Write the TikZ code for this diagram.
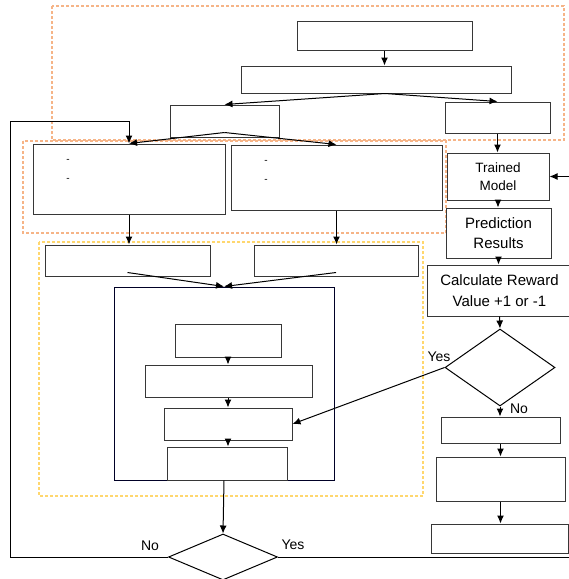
\documentclass[tikz,border=0pt]{standalone}
\usepackage{fontspec}
\setmainfont{Liberation Sans}
\usetikzlibrary{shapes.geometric,positioning,arrows.meta}

\definecolor{zoneorange}{RGB}{246,180,135}
\definecolor{zoneyellow}{RGB}{255,215,110}
\definecolor{edgegray}{RGB}{55,55,55}

\tikzstyle{block} = [draw=edgegray, rectangle, fill=white, line width=1pt, inner sep=0pt, text centered]
\tikzstyle{decision} = [draw=black, diamond, fill=white, line width=1pt, inner sep=0pt]
\tikzstyle{zone} = [dash pattern=on 3pt off 2pt, line width=1.3pt]
\tikzstyle{arrow} = [draw, line width=1pt, -{Latex[length=8pt,width=7pt]}]
\tikzstyle{tag} = [inner sep=0pt, font=\fontsize{14}{16}\selectfont]

\begin{document}
\begin{tikzpicture}[x=1pt, y=-1pt, node distance=2.5cm, auto]
  \useasboundingbox (0,0) rectangle (569,579);
  \draw[zone, draw=zoneorange] (52,6) rectangle (564,140);
  \draw[zone, draw=zoneorange] (23,141) rectangle (446,233);
  \draw[zone, draw=zoneyellow] (39,242) rectangle (423,496);

  \node [block, minimum width=175pt, minimum height=29pt] (a1) at (384.5,35.5) {};
  \node [block, minimum width=270pt, minimum height=27pt] (a2) at (376,79.5) {};
  \node [block, minimum width=109pt, minimum height=32pt] (a3) at (224.5,121) {};
  \node [block, minimum width=105pt, minimum height=31pt] (a4) at (497.5,117.5) {};
  \node [block, minimum width=192pt, minimum height=70pt] (a5) at (129,179) {};
  \node [block, minimum width=211pt, minimum height=65pt] (a6) at (336.5,177.5) {};
  \node [inner sep=0pt] (d1) at (68,161) {-};
  \node [inner sep=0pt] (d2) at (68,180) {-};
  \node [inner sep=0pt] (d3) at (266,162) {-};
  \node [inner sep=0pt] (d4) at (266,181) {-};

  \node [block, minimum width=102pt, minimum height=47pt, align=center, font=\fontsize{13.5}{17.5}\selectfont] (trained) at (498,176.5) {Trained\\Model};
  \node [block, minimum width=105pt, minimum height=50pt, align=center, font=\fontsize{15}{19.5}\selectfont] (pred) at (498.5,233) {Prediction\\Results};
  \node [block, minimum width=145pt, minimum height=51pt, align=center, font=\fontsize{15}{21}\selectfont] (reward) at (499.5,290.5) {Calculate Reward\\Value +1 or -1};
  \node [decision, minimum width=110pt, minimum height=77pt] (dec1) at (500,367.5) {};
  \node [block, minimum width=119pt, minimum height=26pt] (g1) at (500.5,430) {};
  \node [block, minimum width=129pt, minimum height=44pt] (g2) at (500.5,479) {};
  \node [block, minimum width=137pt, minimum height=29pt] (g3) at (500,538.5) {};

  \node [block, minimum width=165pt, minimum height=31pt] (j1) at (127.5,260.5) {};
  \node [block, minimum width=164pt, minimum height=31pt] (k1) at (336,260.5) {};
  \node [block, draw=black!85!blue, minimum width=220pt, minimum height=193pt] (train) at (224,383.5) {};
  \node [block, minimum width=106pt, minimum height=33pt] (m1) at (228,340.5) {};
  \node [block, minimum width=167pt, minimum height=32pt] (m2) at (228.5,381) {};
  \node [block, minimum width=128pt, minimum height=32pt] (m3) at (228,424) {};
  \node [block, minimum width=120pt, minimum height=33pt] (m4) at (227,463.5) {};
  \node [decision, minimum width=109pt, minimum height=46pt] (dec2) at (223,557) {};

  \node [tag] (yes1) at (439,357) {Yes};
  \node [tag] (no1) at (519,409) {No};
  \node [tag] (no2) at (150,546) {No};
  \node [tag] (yes2) at (293,545) {Yes};

  \coordinate (loopL) at (10,121);
  \coordinate (loopR) at (570,176.5);

  \draw [arrow] (a1.south) to (a1.south |- a2.north);
  \draw [arrow] ([xshift=9pt]a2.south) to (a3.north);
  \draw [arrow] ([xshift=9pt]a2.south) to (a4.north);
  \draw [arrow] ([yshift=5pt]a3.south) to (a5.north);
  \draw [arrow] ([yshift=5pt]a3.south) to (a6.north);
  \draw [arrow] (a4.south) to (a4.south |- trained.north);
  \draw [arrow] (trained.south) to (trained.south |- pred.north);
  \draw [arrow] (pred.south) to (pred.south |- reward.north);
  \draw [arrow] (reward.south) to (dec1.north);
  \draw [arrow] (dec1.west) to (m3.east);
  \draw [arrow] (dec1.south) to (dec1.south |- g1.north);
  \draw [arrow] (g1.south) to (g1.south |- g2.north);
  \draw [arrow] (g2.south) to (g2.south |- g3.north);
  \draw [arrow] (a5.south) to (a5.south |- j1.north);
  \draw [arrow] (a6.south) to (a6.south |- k1.north);
  \draw [arrow] ([yshift=4pt]j1.south) to (train.north);
  \draw [arrow] ([yshift=4pt]k1.south) to (train.north);
  \draw [arrow] (m1.south) to (m1.south |- m2.north);
  \draw [arrow] (m2.south -| m1.south) to (m1.south |- m3.north);
  \draw [arrow] (m3.south) to (m3.south |- m4.north);
  \draw [arrow] (train.south) to (dec2.north);
  \draw [arrow] (dec2.west) -| (loopL) -| (a5.north);
  \draw [arrow] (dec2.east) -| (loopR) to (trained.east);
\end{tikzpicture}
\end{document}
